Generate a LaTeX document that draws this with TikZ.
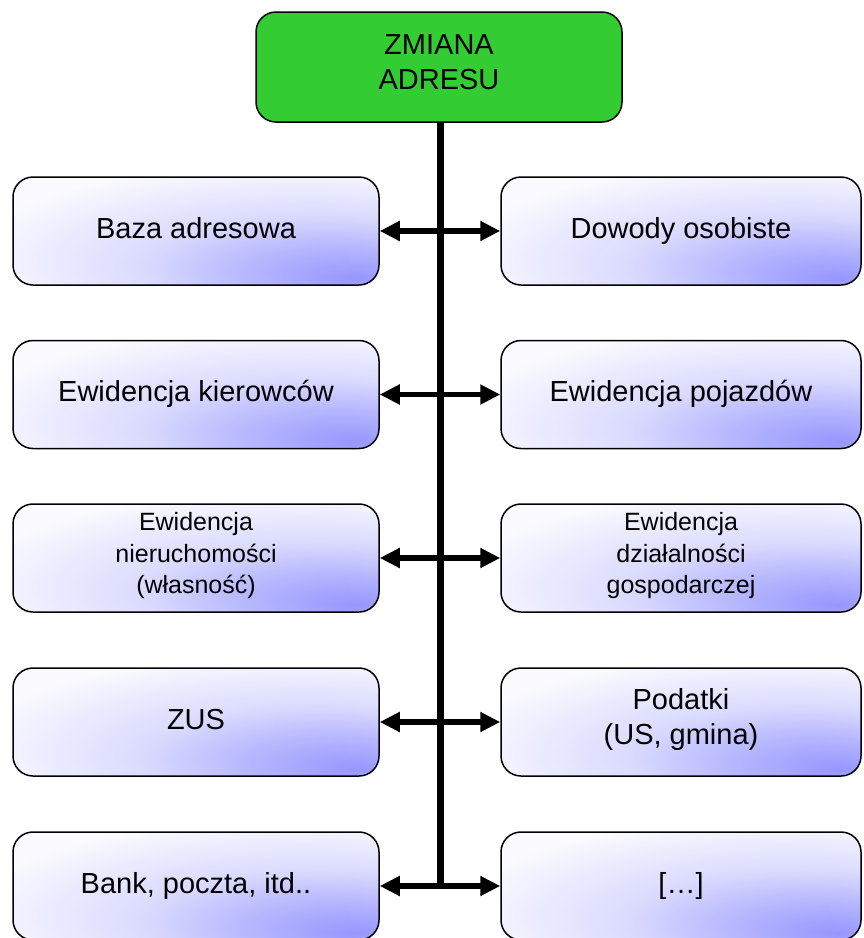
\documentclass[tikz,border=0pt]{standalone}
\usepackage{fontspec}
\setmainfont{Liberation Sans}
\usepackage{xcolor}
\usetikzlibrary{arrows.meta}

\definecolor{boxgreen}{RGB}{51,204,51}
\definecolor{boxblue}{RGB}{150,150,255}
\pgfdeclareradialshading{boxshade}{\pgfpoint{22bp}{-22bp}}{%
  color(0bp)=(boxblue); color(12bp)=(boxblue!70!white);
  color(24bp)=(boxblue!35!white); color(44bp)=(boxblue!4!white);
  color(100bp)=(white)}

\begin{document}
\begin{tikzpicture}[x=1pt, y=-1pt, line join=round,
   box_style/.style={draw=black, line width=1.5pt, rounded corners=20pt,
     minimum width=366pt, minimum height=108pt, align=center,
     font=\fontsize{29}{35}\selectfont, execute at begin node=\strut},
   shaded_box/.style={box_style, shading=boxshade},
   small_text/.style={font=\fontsize{25}{31.5}\selectfont},
   link_style/.style={draw=black, line width=5.5pt, -{Triangle[length=20pt,width=19pt]}}]
	\useasboundingbox (0,0) rectangle (863,938);

	\node [box_style, fill=boxgreen, minimum height=110pt] (top) at (439,67) {ZMIANA\\ADRESU};

	\node [shaded_box] (l1) at (196,231)   {Baza adresowa};
	\node [shaded_box, minimum width=360pt] (r1) at (681,231)   {Dowody osobiste};
	\node [shaded_box] (l2) at (196,394.5) {Ewidencja kierowców};
	\node [shaded_box, minimum width=360pt] (r2) at (681,394.5) {Ewidencja pojazdów};
	\node [shaded_box, small_text] (l3) at (196,558) {Ewidencja\\nieruchomości\\(własność)};
	\node [shaded_box, small_text, minimum width=360pt] (r3) at (681,558) {Ewidencja\\działalności\\gospodarczej};
	\node [shaded_box] (l4) at (196,722)   {ZUS};
	\node [shaded_box, minimum width=360pt] (r4) at (681,722)   {Podatki\\(US, gmina)};
	\node [shaded_box] (l5) at (196,886)   {Bank, poczta, itd..};
	\node [shaded_box, minimum width=360pt] (r5) at (681,886)   {[\dots]};

	\foreach \row/\ypos in {1/231, 2/394.5, 3/558, 4/722, 5/886}
	  \coordinate (j\row) at (440,\ypos);

	\foreach \row in {1,...,5} {
	  \draw [link_style] (j\row) -- (l\row.east);
	  \draw [link_style] (j\row) -- (r\row.west);
	}

	\draw [draw=black, line width=7pt] (top.south -| j1) -- (j5);
\end{tikzpicture}
\end{document}
